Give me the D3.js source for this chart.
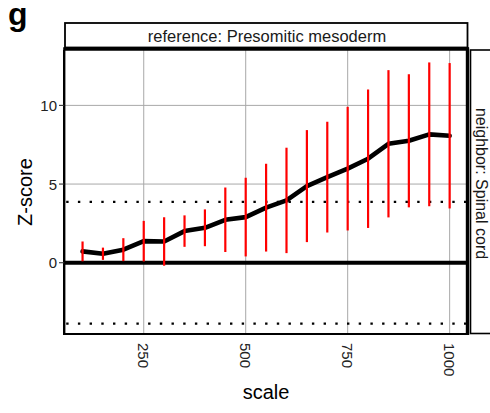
<!DOCTYPE html>
<html>
<head>
<meta charset="utf-8">
<script src="https://cdn.jsdelivr.net/npm/d3@7"></script>
<style>
  html, body { margin: 0; padding: 0; background: #fff; }
  svg { display: block; font-family: "Liberation Sans", Arial, Helvetica, sans-serif; }
</style>
</head>
<body>
<svg id="chart" width="490" height="413"></svg>
<script>
// Neighbourhood enrichment Z-score across clustering scales
const scaleValues = [100, 150, 200, 250, 300, 350, 400, 450, 500, 550, 600, 650, 700, 750, 800, 850, 900, 950, 1000];
const zMean = [0.72, 0.57, 0.83, 1.37, 1.35, 2.01, 2.22, 2.73, 2.90, 3.50, 3.96, 4.87, 5.44, 5.98, 6.61, 7.56, 7.75, 8.16, 8.07];
const zSd   = [0.63, 0.39, 0.73, 1.29, 1.54, 1.00, 1.17, 2.05, 2.50, 2.79, 3.35, 3.56, 3.52, 3.93, 4.40, 4.68, 4.23, 4.57, 4.62];
const xTicks = [250, 500, 750, 1000];
const yTicks = [0, 5, 10];
const threshold = 3.87;
const referenceLabel = "reference: Presomitic mesoderm";
const neighborLabel = "neighbor: Spinal cord";

const svg = d3.select("#chart");
const panel = { left: 64.2, right: 468, top: 50, bottom: 334 };

const x = d3.scaleLinear().domain([55, 1045]).range([panel.left, panel.right]);
const y = d3.scaleLinear().domain([-4.53, 13.52]).range([panel.bottom, panel.top]);

const data = scaleValues.map((s, i) => ({ s, m: zMean[i], sd: zSd[i] }));

// panel label
svg.append("text").attr("x", 8).attr("y", 25)
  .attr("font-size", 32).attr("font-weight", "bold").text("g");

// grid
const g = svg.append("g");
g.selectAll(".vgrid").data(xTicks).join("line")
  .attr("x1", d => x(d)).attr("x2", d => x(d))
  .attr("y1", panel.top).attr("y2", panel.bottom)
  .attr("stroke", "#a8a8a8").attr("stroke-width", 1);
g.selectAll(".hgrid").data(yTicks.filter(d => d !== 0)).join("line")
  .attr("x1", panel.left).attr("x2", panel.right)
  .attr("y1", d => y(d)).attr("y2", d => y(d))
  .attr("stroke", "#a8a8a8").attr("stroke-width", 1);

// significance thresholds
g.selectAll(".thr").data([threshold, -threshold]).join("line")
  .attr("x1", panel.left + 2).attr("x2", panel.right - 2)
  .attr("y1", d => y(d)).attr("y2", d => y(d))
  .attr("stroke", "#000").attr("stroke-width", 2.4)
  .attr("stroke-dasharray", "2.4,9.3");

// zero line
g.append("line")
  .attr("x1", panel.left).attr("x2", panel.right)
  .attr("y1", y(0)).attr("y2", y(0))
  .attr("stroke", "#000").attr("stroke-width", 4);

// mean line
g.append("path").datum(data)
  .attr("d", d3.line().x(d => x(d.s)).y(d => y(d.m)))
  .attr("fill", "none").attr("stroke", "#000").attr("stroke-width", 4.6)
  .attr("stroke-linejoin", "round").attr("stroke-linecap", "round");

// error bars
g.selectAll(".err").data(data).join("line")
  .attr("x1", d => x(d.s)).attr("x2", d => x(d.s))
  .attr("y1", d => y(d.m - d.sd)).attr("y2", d => y(d.m + d.sd))
  .attr("stroke", "#ff0000").attr("stroke-width", 2.2);

// panel border
svg.append("line").attr("x1", panel.left).attr("x2", panel.left)
  .attr("y1", panel.top).attr("y2", panel.bottom + 1).attr("stroke", "#000").attr("stroke-width", 2.4);
svg.append("line").attr("x1", panel.left - 1).attr("x2", panel.right)
  .attr("y1", panel.bottom).attr("y2", panel.bottom).attr("stroke", "#000").attr("stroke-width", 2.2);
svg.append("line").attr("x1", panel.left - 1).attr("x2", panel.right + 1)
  .attr("y1", 49).attr("y2", 49).attr("stroke", "#000").attr("stroke-width", 3.4);
svg.append("line").attr("x1", 467.5).attr("x2", 467.5)
  .attr("y1", 47.5).attr("y2", panel.bottom + 1).attr("stroke", "#000").attr("stroke-width", 3.4);

// top strip
svg.append("rect").attr("x", 65).attr("y", 23).attr("width", 402.5).attr("height", 24.5)
  .attr("fill", "#fff").attr("stroke", "#000").attr("stroke-width", 1.8);
svg.append("text").attr("x", 267).attr("y", 35.5)
  .attr("text-anchor", "middle").attr("dominant-baseline", "central")
  .attr("font-size", 16.5).attr("fill", "#1a1a1a").text(referenceLabel);

// right strip
svg.append("rect").attr("x", 470.5).attr("y", 50).attr("width", 30).attr("height", 283.5)
  .attr("fill", "#fff").attr("stroke", "#000").attr("stroke-width", 1.6);
svg.append("text")
  .attr("transform", `translate(481,183.5) rotate(90)`)
  .attr("text-anchor", "middle").attr("dominant-baseline", "central")
  .attr("font-size", 16).attr("fill", "#1a1a1a").text(neighborLabel);

// y axis
const yAxis = svg.append("g");
yAxis.selectAll(".tick").data(yTicks).join("line")
  .attr("x1", 59).attr("x2", panel.left)
  .attr("y1", d => y(d)).attr("y2", d => y(d))
  .attr("stroke", "#333").attr("stroke-width", 1.1);
yAxis.selectAll(".lab").data(yTicks).join("text")
  .attr("x", 57).attr("y", d => y(d))
  .attr("text-anchor", "end").attr("dominant-baseline", "central")
  .attr("font-size", 15).attr("fill", "#222").text(d => d);

// x axis labels
const xAxis = svg.append("g");
xAxis.selectAll(".lab").data(xTicks).join("text")
  .attr("transform", d => `translate(${x(d)},${343}) rotate(90)`)
  .attr("text-anchor", "start").attr("dominant-baseline", "central")
  .attr("font-size", 15).attr("fill", "#222").text(d => d);

// axis titles
svg.append("text").attr("x", 266).attr("y", 399)
  .attr("text-anchor", "middle").attr("font-size", 20).text("scale");
svg.append("text")
  .attr("transform", `translate(32,192) rotate(-90)`)
  .attr("text-anchor", "middle").attr("font-size", 20).text("Z-score");
</script>
</body>
</html>
